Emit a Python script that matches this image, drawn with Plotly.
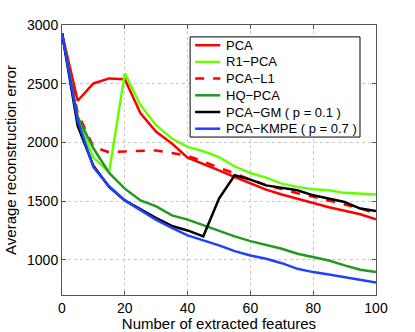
import plotly.graph_objects as go

features = list(range(0, 101, 5))

pca = [2930, 2355, 2502, 2545, 2538, 2248, 2090, 1990, 1870, 1818, 1761, 1705, 1649,
       1598, 1556, 1518, 1480, 1448, 1418, 1388, 1345]
r1_pca = [2930, 2200, 1870, 1745, 2588, 2317, 2146, 2033, 1962, 1924, 1874, 1795, 1739,
          1700, 1649, 1621, 1601, 1593, 1570, 1565, 1556]
pca_l1 = [2930, 2250, 1962, 1915, 1923, 1926, 1931, 1910, 1885, 1837, 1784, 1733, 1683,
          1637, 1600, 1567, 1537, 1503, 1475, 1438, 1392]
hq_pca = [2930, 2217, 1950, 1740, 1606, 1506, 1455, 1378, 1342, 1293, 1245, 1199, 1159,
          1128, 1094, 1051, 1022, 994, 952, 915, 895]
pca_gm = [2930, 2140, 1800, 1620, 1506, 1430, 1355, 1288, 1250, 1200, 1521, 1720, 1683,
          1634, 1615, 1592, 1549, 1521, 1492, 1436, 1415]
pca_kmpe = [2930, 2185, 1790, 1626, 1506, 1421, 1340, 1272, 1208, 1165, 1123, 1074, 1037,
            1009, 971, 923, 895, 875, 852, 824, 807]

series = [
    ('PCA', pca, '#ff0000', 'solid'),
    ('R1\u2212PCA', r1_pca, '#66ff00', 'solid'),
    ('PCA\u2212L1', pca_l1, '#ff0000', 'dash'),
    ('HQ\u2212PCA', hq_pca, '#1f9a1f', 'solid'),
    ('PCA\u2212GM ( p = 0.1 )', pca_gm, '#000000', 'solid'),
    ('PCA\u2212KMPE ( p = 0.7 )', pca_kmpe, '#2040ff', 'solid'),
]

fig = go.Figure()
for name, vals, color, dash in series:
    fig.add_trace(go.Scatter(
        x=features, y=vals, mode='lines', name=name, showlegend=False,
        line=dict(color=color, width=2.5, dash=dash),
    ))

# compact MATLAB-style legend box (plotly's own legend rows are too tall)
box_x0, box_x1 = 0.408, 0.949
box_y0, box_y1 = 0.585, 0.956
row_h = (box_y1 - box_y0) / len(series)
fig.add_shape(type='rect', xref='paper', yref='paper',
              x0=box_x0, x1=box_x1, y0=box_y0, y1=box_y1,
              line=dict(color='black', width=1), fillcolor='white', layer='above')
for i, (name, vals, color, dash) in enumerate(series):
    yc = box_y1 - row_h * (i + 0.5)
    fig.add_shape(type='line', xref='paper', yref='paper',
                  x0=box_x0 + 0.016, x1=box_x0 + 0.096, y0=yc, y1=yc,
                  line=dict(color=color, width=2.5, dash=dash), layer='above')
    fig.add_annotation(xref='paper', yref='paper', x=box_x0 + 0.108, y=yc,
                       text=name, showarrow=False, xanchor='left', yanchor='middle',
                       font=dict(size=13))

axis_style = dict(
    showline=True, linecolor='#555555', linewidth=1, mirror='ticks',
    ticks='inside', ticklen=4, tickcolor='#555555',
    showgrid=True, gridcolor='#c8c8c8', griddash='dot', gridwidth=1,
    zeroline=False, tickfont=dict(size=14, color='black'), automargin=False,
)

fig.update_layout(
    width=415, height=332,
    margin=dict(l=62, r=39, t=25, b=37),
    paper_bgcolor='white', plot_bgcolor='white',
    font=dict(family='Liberation Sans, Arial, sans-serif', color='black'),
    xaxis=dict(range=[0, 100], tickvals=[0, 20, 40, 60, 80, 100],
               title=dict(text='Number of extracted features', font=dict(size=15), standoff=0),
               **axis_style),
    yaxis=dict(range=[700, 3000], tickvals=[1000, 1500, 2000, 2500, 3000],
               title=dict(text='Average reconstruction error', font=dict(size=15), standoff=6),
               **axis_style),
)

# drop the page's default body margin so the figure sits at the window's corner
fig.write_html("out.html", config={'displayModeBar': False},
               post_script="document.body.style.margin='0';")
